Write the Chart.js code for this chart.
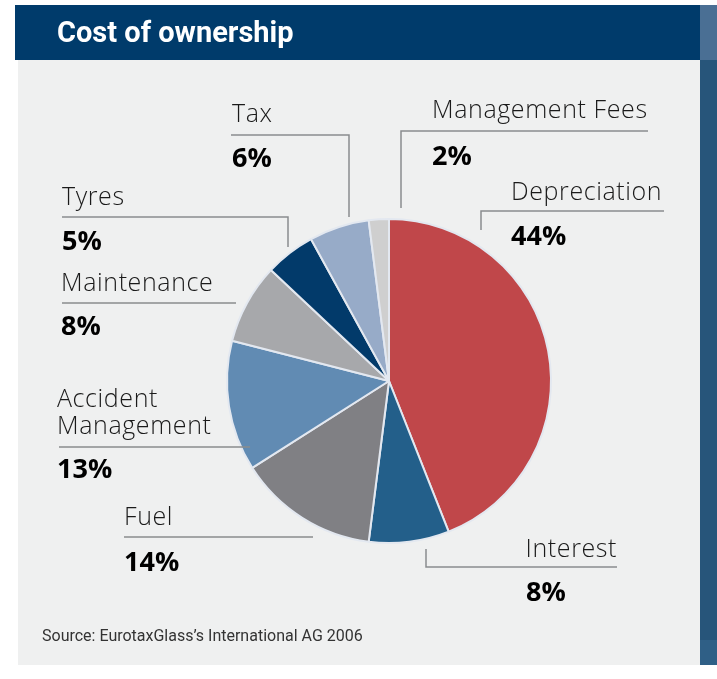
<!DOCTYPE html>
<html>
<head>
<meta charset="utf-8">
<script src="https://cdn.jsdelivr.net/npm/chart.js@4/dist/chart.umd.min.js"></script>
<style>
  html, body { margin: 0; padding: 0; background: #fff; }
  canvas { display: block; }
</style>
</head>
<body>
<canvas id="myChart" width="717" height="679"></canvas>
<script>
// data
const categories = ['Depreciation', 'Interest', 'Fuel', 'Accident Management', 'Maintenance', 'Tyres', 'Tax', 'Management Fees'];
const shares = [44, 8, 14, 13, 8, 5, 6, 2];
const sliceColors = ['#c0474a', '#235f8a', '#808084', '#618bb3', '#a7a8ab', '#023a6a', '#97abc8', '#cfcfcf'];

// label placement: text lines, x, baselines, alignment, leader line points
const labelLayout = [
    { lines: ['Depreciation'], x: 511, y: 200, py: 245, px: 511, align: 'left', path: [[664, 211], [481, 211], [481, 230]] },
    { lines: ['Interest'], x: 617, y: 557, py: 601, px: 526, align: 'right', path: [[617, 567], [426, 567], [426, 549]] },
    { lines: ['Fuel'], x: 124, y: 525, py: 571, px: 124, align: 'left', path: [[124, 537], [313, 537]] },
    { lines: ['Accident', 'Management'], x: 57, y: 407, py: 478, px: 57, align: 'left', path: [[59, 447], [250, 447]] },
    { lines: ['Maintenance'], x: 61, y: 291, py: 335, px: 61, align: 'left', path: [[62, 303], [236, 303]] },
    { lines: ['Tyres'], x: 62, y: 205, py: 250, px: 62, align: 'left', path: [[62, 217], [288, 217], [288, 247]] },
    { lines: ['Tax'], x: 232, y: 122, py: 167, px: 232, align: 'left', path: [[231, 135], [349, 135], [349, 217]] },
    { lines: ['Management Fees'], x: 432, y: 118, py: 165, px: 432, align: 'left', path: [[648, 131], [401, 131], [401, 208]] }
];

const backdrop = {
    id: 'backdrop',
    beforeDraw(chart) {
        const c = chart.ctx;
        c.save();
        c.fillStyle = '#ffffff';
        c.fillRect(0, 0, 717, 679);
        // panel
        c.fillStyle = '#eff0f0';
        c.fillRect(18, 60, 682, 605);
        // header
        c.fillStyle = '#003b6b';
        c.fillRect(15, 5, 685, 55);
        // right strip
        c.fillStyle = '#4a6f94';
        c.fillRect(700, 5, 17, 55);
        c.fillStyle = '#27557a';
        c.fillRect(700, 60, 17, 580);
        c.fillStyle = '#2f5f86';
        c.fillRect(700, 640, 17, 25);
        c.fillStyle = '#ffffff';
        c.font = 'bold 29px Roboto, "Liberation Sans", sans-serif';
        c.textBaseline = 'alphabetic';
        c.fillText('Cost of ownership', 57, 42);
        c.restore();
    },
    afterDraw(chart) {
        const c = chart.ctx;
        c.save();
        c.textBaseline = 'alphabetic';
        labelLayout.forEach((l, i) => {
            c.strokeStyle = '#8a8c8e';
            c.lineWidth = 1.5;
            c.beginPath();
            l.path.forEach((p, j) => j ? c.lineTo(p[0], p[1]) : c.moveTo(p[0], p[1]));
            c.stroke();
            c.fillStyle = '#1a1a1a';
            c.font = '300 25px "Open Sans", Roboto, sans-serif';
            c.letterSpacing = '0.6px';
            c.textAlign = l.align;
            l.lines.forEach((t, k) => c.fillText(t, l.x, l.y + k * 27));
            c.letterSpacing = '0px';
            c.fillStyle = '#000000';
            c.font = 'bold 27px "Open Sans", Roboto, sans-serif';
            c.textAlign = 'left';
            c.fillText(shares[i] + '%', l.px, l.py);
        });
        c.fillStyle = '#333333';
        c.font = '16px Roboto, "Liberation Sans", sans-serif';
        c.textAlign = 'left';
        c.fillText('Source: EurotaxGlass\u2019s International AG 2006', 42, 641);
        c.restore();
    }
};

const ctx = document.getElementById('myChart').getContext('2d');
const myChart = new Chart(ctx, {
    type: 'pie',
    data: {
        labels: categories,
        datasets: [{
            data: shares,
            backgroundColor: sliceColors,
            borderColor: '#e3e8f0',
            borderWidth: 2
        }]
    },
    options: {
        responsive: false,
        animation: false,
        layout: { padding: { left: 226, right: 165, top: 218, bottom: 135 } },
        plugins: {
            legend: { display: false },
            tooltip: { enabled: false }
        }
    },
    plugins: [backdrop]
});
</script>
</body>
</html>
